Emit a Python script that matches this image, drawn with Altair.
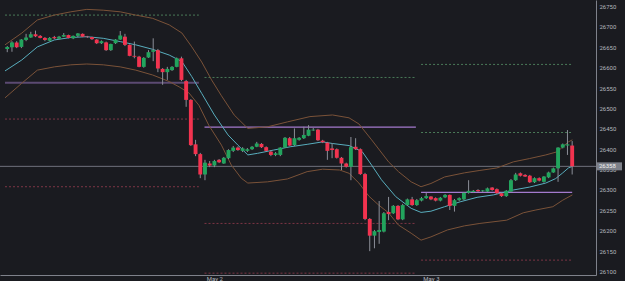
import altair as alt
import pandas as pd

# ---- 30-minute bars (bar number on x) ----
opens = [26646, 26650, 26662, 26651, 26668, 26674, 26682, 26678, 26673, 26666,
         26675, 26671, 26676, 26680, 26672, 26678, 26683, 26676, 26675, 26669,
         26660, 26662, 26643, 26660, 26669, 26676, 26656, 26629, 26627, 26602,
         26625, 26639, 26643, 26597, 26589, 26594, 26602, 26623, 26567, 26521,
         26412, 26388, 26338, 26365, 26360, 26374, 26365, 26378, 26396, 26404,
         26396, 26396, 26400, 26406, 26413, 26405, 26394, 26386, 26386, 26404,
         26427, 26410, 26423, 26427, 26433, 26446, 26448, 26421, 26416, 26402,
         26400, 26379, 26365, 26357, 26406, 26400, 26339, 26229, 26188, 26197,
         26198, 26246, 26243, 26261, 26228, 26263, 26277, 26263, 26274, 26280,
         26284, 26280, 26274, 26282, 26288, 26261, 26275, 26277, 26293, 26295,
         26300, 26297, 26296, 26306, 26302, 26292, 26285, 26296, 26324, 26341,
         26337, 26335, 26319, 26329, 26320, 26331, 26343, 26353, 26404, 26409,
         26409]
highs = [26653, 26665, 26665, 26670, 26683, 26688, 26691, 26680, 26675, 26675,
         26678, 26678, 26685, 26681, 26679, 26685, 26684, 26678, 26676, 26670,
         26667, 26664, 26659, 26670, 26690, 26683, 26657, 26664, 26629, 26626,
         26643, 26672, 26646, 26599, 26602, 26604, 26625, 26627, 26570, 26523,
         26423, 26391, 26374, 26371, 26374, 26376, 26381, 26400, 26408, 26407,
         26405, 26403, 26408, 26418, 26415, 26407, 26398, 26393, 26405, 26430,
         26430, 26451, 26430, 26455, 26459, 26452, 26450, 26423, 26418, 26415,
         26402, 26381, 26367, 26430, 26427, 26402, 26342, 26231, 26202, 26273,
         26246, 26283, 26263, 26263, 26266, 26279, 26283, 26278, 26283, 26293,
         26285, 26282, 26283, 26290, 26289, 26278, 26282, 26295, 26324, 26300,
         26302, 26300, 26306, 26307, 26304, 26294, 26300, 26327, 26342, 26343,
         26339, 26337, 26331, 26331, 26334, 26345, 26355, 26405, 26414, 26447,
         26420]
lows = [26638, 26639, 26648, 26648, 26665, 26673, 26675, 26672, 26665, 26665,
        26670, 26670, 26675, 26672, 26670, 26675, 26675, 26673, 26668, 26658,
        26658, 26641, 26641, 26658, 26668, 26653, 26628, 26623, 26601, 26600,
        26624, 26616, 26589, 26558, 26570, 26592, 26601, 26567, 26504, 26408,
        26383, 26329, 26324, 26356, 26356, 26366, 26364, 26376, 26393, 26396,
        26393, 26393, 26398, 26405, 26403, 26394, 26383, 26383, 26383, 26403,
        26408, 26408, 26421, 26425, 26432, 26445, 26420, 26415, 26374, 26378,
        26377, 26349, 26355, 26324, 26398, 26337, 26226, 26150, 26157, 26168,
        26196, 26226, 26241, 26226, 26226, 26261, 26261, 26261, 26272, 26278,
        26275, 26272, 26272, 26280, 26251, 26247, 26273, 26275, 26291, 26293,
        26295, 26295, 26295, 26298, 26290, 26283, 26283, 26294, 26322, 26333,
        26332, 26317, 26317, 26321, 26318, 26329, 26342, 26320, 26402, 26386,
        26338]
closes = [26651, 26662, 26650, 26669, 26674, 26682, 26677, 26673, 26668, 26673,
          26672, 26676, 26680, 26673, 26678, 26684, 26676, 26675, 26670, 26660,
          26665, 26643, 26658, 26669, 26679, 26656, 26629, 26627, 26602, 26624,
          26638, 26643, 26598, 26589, 26597, 26602, 26623, 26570, 26521, 26410,
          26388, 26338, 26367, 26360, 26371, 26368, 26379, 26398, 26404, 26398,
          26402, 26400, 26406, 26414, 26405, 26396, 26386, 26390, 26404, 26428,
          26409, 26427, 26428, 26435, 26448, 26448, 26422, 26417, 26396, 26398,
          26379, 26365, 26357, 26405, 26400, 26339, 26229, 26188, 26199, 26202,
          26243, 26241, 26261, 26228, 26263, 26277, 26263, 26275, 26280, 26285,
          26277, 26274, 26281, 26288, 26261, 26275, 26280, 26293, 26298, 26298,
          26297, 26299, 26304, 26300, 26292, 26285, 26298, 26324, 26338, 26335,
          26333, 26319, 26329, 26323, 26333, 26343, 26353, 26404, 26412, 26412,
          26358]

# ---- band envelope and its basis line ----
upper_x = [-0.48, 3.1, 6.4, 10.0, 13.5, 16.9, 20.4, 24.0, 27.3, 30.9, 34.4, 37.1,
           39.2, 41.3, 43.4, 45.5, 48.2, 51.1, 55.3, 59.5, 64.3, 69.1, 72.6, 74.7,
           77.4, 81.0, 83.1, 85.8, 87.9, 90.0, 92.9, 97.1, 100.4, 104.0, 107.5,
           110.9, 114.4, 116.9, 118.2, 119.2, 120.05]
upper_y = [26656, 26685, 26717, 26729, 26737, 26743, 26741, 26737, 26729, 26721,
           26705, 26685, 26651, 26614, 26570, 26531, 26484, 26451, 26455, 26467,
           26480, 26484, 26477, 26462, 26423, 26369, 26345, 26320, 26308, 26316,
           26332, 26342, 26348, 26354, 26369, 26377, 26386, 26394, 26408, 26418,
           26423]
lower_x = [-0.48, 3.1, 6.4, 10.0, 13.5, 16.9, 20.4, 24.0, 27.3, 30.9, 34.4, 36.5,
           38.6, 40.7, 42.8, 45.5, 47.6, 49.7, 51.1, 55.3, 59.5, 63.7, 67.0, 70.6,
           72.6, 74.7, 76.8, 78.9, 81.0, 83.1, 85.8, 87.9, 90.0, 93.5, 97.1, 100.4,
           106.1, 109.6, 112.3, 115.9, 118.0, 120.05]
lower_y = [26526, 26562, 26594, 26602, 26607, 26609, 26607, 26602, 26594, 26582,
           26566, 26553, 26538, 26508, 26459, 26410, 26361, 26329, 26317, 26320,
           26327, 26345, 26351, 26349, 26341, 26317, 26285, 26263, 26244, 26214,
           26194, 26177, 26185, 26202, 26212, 26218, 26226, 26244, 26251, 26259,
           26275, 26288]
basis_x = [-0.48, 3.1, 6.4, 10.0, 13.5, 16.9, 20.4, 24.0, 27.3, 30.9, 34.4, 37.1,
           39.2, 41.3, 44.0, 46.9, 49.0, 51.1, 53.2, 56.6, 60.1, 63.7, 67.0, 69.1,
           72.6, 75.4, 77.4, 79.5, 82.5, 85.8, 87.9, 90.0, 92.9, 96.2, 99.8, 103.3,
           107.5, 110.9, 114.4, 116.5, 118.0, 119.2, 120.05]
basis_y = [26592, 26619, 26651, 26668, 26674, 26676, 26672, 26664, 26656, 26645,
           26631, 26615, 26578, 26537, 26484, 26435, 26410, 26386, 26390, 26398,
           26406, 26412, 26418, 26414, 26409, 26394, 26361, 26325, 26284, 26255,
           26245, 26248, 26259, 26271, 26282, 26288, 26300, 26307, 26317, 26328,
           26342, 26354, 26358]

# ---- daily pivot levels ----
level_day = [1, 1, 1, 1, 2, 2, 2, 2, 3, 3, 3, 3]
level_start = [-0.48] * 4 + [41.9] * 4 + [87.9] * 4
level_end = [40.7] * 4 + [86.8] * 4 + [120.0] * 4
level_price = [26729, 26563, 26474, 26308,
               26576, 26454, 26218, 26096,
               26608, 26441, 26294, 26128]
level_kind = ["R", "P", "S", "S",
              "R", "P", "S", "S",
              "R", "R", "P", "S"]

# ---- axis ticks ----
price_ticks = list(range(26100, 26751, 50))
day_ticks = [44, 90]
day_labels = ["May 2", "May 3"]

BG = "#1a1b20"
AXIS_COL = "#7f828b"
LABEL_COL = "#b4b7bf"
UP = "#22a45d"
DOWN = "#f2334f"

bars = pd.DataFrame({"i": list(range(len(opens))), "open": opens, "high": highs,
                     "low": lows, "close": closes})
bars["dir"] = ["up" if c >= o else "down" for o, c in zip(opens, closes)]

bands = pd.concat([
    pd.DataFrame({"i": upper_x, "v": upper_y, "band": "upper"}),
    pd.DataFrame({"i": lower_x, "v": lower_y, "band": "lower"}),
])
basis = pd.DataFrame({"i": basis_x, "v": basis_y})
levels = pd.DataFrame({"day": level_day, "start": level_start, "end": level_end,
                       "price": level_price, "kind": level_kind})

label_expr = " : ".join(
    [f"datum.value == {t} ? '{lab}'" for t, lab in zip(day_ticks, day_labels)]
) + " : ''"

xs = alt.Scale(domain=[-0.48, 124.0], nice=False, zero=False)
ys = alt.Scale(domain=[26091.5, 26766], nice=False, zero=False)

x_axis = alt.Axis(values=day_ticks, labelExpr=label_expr, ticks=False, grid=False,
                  title=None, labelFontSize=6, labelColor=LABEL_COL, labelPadding=0,
                  domainColor=AXIS_COL, domainWidth=1, labelFont="Roboto")
y_axis = alt.Axis(orient="right", values=price_ticks, format="d", ticks=False,
                  grid=False, title=None, labelFontSize=6, labelColor=LABEL_COL,
                  labelPadding=3, domainColor=AXIS_COL, domainWidth=1,
                  labelFont="Roboto")

# every layer carries the same axis definition so the merged axes survive
X = lambda f: alt.X(f, type="quantitative", scale=xs, axis=x_axis)
Y = lambda f: alt.Y(f, type="quantitative", scale=ys, axis=y_axis)

res = alt.Chart(levels).transform_filter("datum.kind == 'R'").mark_rule(
    color="#4a7a58", strokeWidth=1, strokeDash=[2, 2]
).encode(x=X("start"), x2="end", y=Y("price"))

sup = alt.Chart(levels).transform_filter("datum.kind == 'S'").mark_rule(
    color="#7d3545", strokeWidth=1, strokeDash=[2, 2]
).encode(x=X("start"), x2="end", y=Y("price"))

piv = alt.Chart(levels).transform_filter("datum.kind == 'P'").mark_rule().encode(
    x=X("start"), x2="end", y=Y("price"),
    color=alt.condition("datum.day == 1", alt.value("#5b4a72"), alt.value("#a47acd")),
    strokeWidth=alt.condition("datum.day == 1", alt.value(2), alt.value(1.2)),
)

last_line = alt.Chart(bars.iloc[[-1]]).mark_rule(color="#6e717b", strokeWidth=1).encode(
    y=Y("close")
)

band_lines = alt.Chart(bands).mark_line(color="#7a5238", strokeWidth=1).encode(
    x=X("i"), y=Y("v"), detail="band:N"
)
basis_line = alt.Chart(basis).mark_line(color="#58adbd", strokeWidth=1).encode(
    x=X("i"), y=Y("v")
)

wicks = alt.Chart(bars).mark_rule(color="#8c8f98", strokeWidth=1).encode(
    x=X("i"), y=Y("low"), y2="high",
)
bodies = alt.Chart(bars).mark_bar(size=3.9).encode(
    x=X("i"), y=Y("open"), y2="close",
    color=alt.Color("dir:N", scale=alt.Scale(domain=["up", "down"], range=[UP, DOWN]),
                    legend=None),
)

tag = alt.Chart(bars.iloc[[-1]]).mark_point(
    shape="M-1.25,-0.4L1.25,-0.4L1.25,0.4L-1.25,0.4Z", size=400, filled=True,
    color="#7d8089", opacity=1, strokeWidth=0
).encode(x=alt.value(609.5), y=Y("close"))
tag_text = alt.Chart(bars.iloc[[-1]]).mark_text(
    align="left", baseline="middle", fontSize=6, color="#f2f2f2", font="Roboto"
).encode(x=alt.value(599), y=Y("close"), text=alt.Text("close:Q", format="d"))

chart = alt.layer(
    res, sup, piv, last_line, band_lines, basis_line, wicks, bodies, tag, tag_text
).properties(
    width=596, height=275,
    autosize=alt.AutoSizeParams(type="none"),
    padding={"left": 0, "top": 0, "right": 29, "bottom": 6},
    background=BG,
).configure_view(stroke=None)

chart.save("out.html", embed_options={"renderer": "svg", "actions": False})
